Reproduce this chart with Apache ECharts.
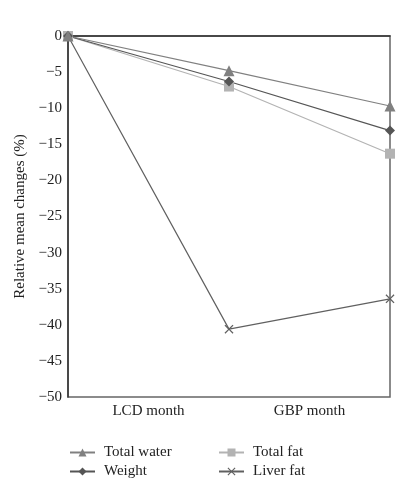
<!DOCTYPE html>
<html>
<head>
<meta charset="utf-8">
<script src="https://cdn.jsdelivr.net/npm/echarts@6/dist/echarts.min.js"></script>
<style>html,body{margin:0;padding:0;background:#fff;}#c{width:420px;height:484px;}</style>
</head>
<body>
<div id="c"></div>
<script>
var categories = ['LCD month', 'GBP month'];
var xPositions = [0, 1, 2];
var totalWater = [0, -4.8, -9.7];
var weight = [0, -6.3, -13.1];
var totalFat = [0, -7.0, -16.3];
var liverFat = [0, -40.6, -36.4];
var seriesNames = ['Total water', 'Weight', 'Total fat', 'Liver fat'];

var FONT = '"Liberation Serif", "DejaVu Serif", serif';
var crossPath = 'path://M0,1L1,0L5,4L9,0L10,1L6,5L10,9L9,10L5,6L1,10L0,9L4,5Z';

function pairs(vals) { return xPositions.map(function (x, i) { return [x, vals[i]]; }); }

function mk(name, vals, color, symbol, size) {
  return {
    name: name, type: 'line', data: pairs(vals), symbol: symbol, symbolSize: size,
    clip: false, lineStyle: { color: color, width: 1.2 }, itemStyle: { color: color },
    emphasis: { disabled: true }, animation: false
  };
}

function leg(name, left, top) {
  return { data: [name], left: left, top: top, itemWidth: 25, itemHeight: 10, padding: 0,
    textStyle: { color: '#222', fontFamily: FONT, fontSize: 15, padding: [0, 0, 0, 4] } };
}

var chart = echarts.init(document.getElementById('c'), null, { renderer: 'canvas' });
chart.setOption({
  backgroundColor: '#fff',
  animation: false,
  grid: { left: 68, right: 30, top: 36, bottom: 87, show: true, borderColor: '#666', borderWidth: 1.5, backgroundColor: 'transparent' },
  xAxis: [
    { type: 'value', min: 0, max: 2, interval: 1, axisLine: { show: true, lineStyle: { color: '#333', width: 1.5 } },
      axisTick: { show: false }, axisLabel: { show: false }, splitLine: { show: false } },
    { type: 'category', data: categories, position: 'bottom', boundaryGap: true,
      axisLine: { show: false }, axisTick: { show: false }, splitLine: { show: false },
      axisLabel: { color: '#222', fontFamily: FONT, fontSize: 15, margin: 7 } }
  ],
  yAxis: {
    type: 'value', min: -50, max: 0, interval: 5,
    name: 'Relative mean changes (%)', nameLocation: 'middle', nameGap: 40,
    nameTextStyle: { color: '#222', fontFamily: FONT, fontSize: 15 },
    axisLine: { show: true, lineStyle: { color: '#333', width: 1.5 } },
    axisTick: { show: false }, splitLine: { show: false },
    axisLabel: { color: '#222', fontFamily: FONT, fontSize: 15, margin: 6,
      formatter: function (v) { return String(v).replace('-', '\u2212'); } }
  },
  legend: [
    leg(seriesNames[0], 69, 445),
    leg(seriesNames[1], 69, 464),
    leg(seriesNames[2], 218, 445),
    leg(seriesNames[3], 218, 464)
  ],
  series: [
    mk(seriesNames[3], liverFat, '#606060', crossPath, 9),
    mk(seriesNames[2], totalFat, '#b3b3b3', 'rect', 10),
    mk(seriesNames[1], weight, '#555555', 'diamond', 10),
    mk(seriesNames[0], totalWater, '#808080', 'triangle', 11)
  ]
});
</script>
</body>
</html>
